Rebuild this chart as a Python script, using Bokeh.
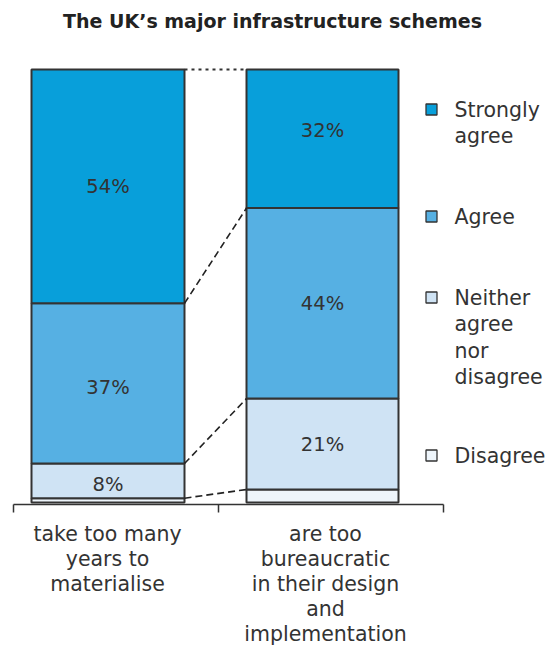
from bokeh.plotting import figure
from bokeh.models import Range1d, ColumnDataSource
from bokeh.core.properties import value
from bokeh.embed import file_html
from bokeh.resources import INLINE

# ---- data ----
categories = ["take too many\nyears to\nmaterialise",
              "are too\nbureaucratic\nin their design\nand\nimplementation"]
series_names = ["Strongly\nagree", "Agree", "Neither\nagree\nnor\ndisagree", "Disagree"]
strongly_agree = [54, 32]
agree = [37, 44]
neither = [8, 21]
disagree = [1, 3]
title = "The UK\u2019s major infrastructure schemes"

colors = ["#089FDA", "#56B0E3", "#CFE3F4", "#EEF5FB"]
edge = "#333333"
FONT = "DejaVu Sans"
TXT = "#333333"
FS = "20.5px"

# ---- layout (pixel-like) ----
W, H = 545, 646
Y0, SCALE = 502.0, 4.33   # pixel of 0%, pixels per percent


def v(py):
    return (Y0 - py) / SCALE


p = figure(width=W, height=H, output_backend="svg", toolbar_location=None,
           x_range=Range1d(0, W), y_range=Range1d(v(H), v(0)), min_border=0)
p.axis.visible = False
p.grid.visible = False
p.outline_line_color = None
p.background_fill_color = "white"

bar_x = [107.5, 322.0]
bar_w = [153, 152]
series = [strongly_agree, agree, neither, disagree]
# vertical nudge (percent units) of the in-bar labels, per series / bar
label_nudge = {0: [0, 1.8], 1: [-0.9, 0], 2: [-0.9, 0]}
# stack from the bottom: disagree, neither, agree, strongly
stack_order = [3, 2, 1, 0]
bottoms = [0.0, 0.0]
bounds = {}
for si in stack_order:
    vals = series[si]
    tops = [b + val for b, val in zip(bottoms, vals)]
    src = ColumnDataSource(dict(x=bar_x, w=bar_w, bottom=bottoms, top=tops))
    p.vbar(x="x", width="w", bottom="bottom", top="top", source=src,
           fill_color=colors[si], line_color=edge, line_width=2)
    bounds[si] = (list(bottoms), tops)
    if si != 3:
        labs = [f"{val}%" for val in vals]
        mids = [(b + t) / 2 + n for b, t, n in zip(bottoms, tops, label_nudge[si])]
        p.text(x=bar_x, y=mids, text=labs, text_font=value(FONT),
               text_font_size="19.5px", text_color=TXT, text_align="center",
               text_baseline="middle")
    bottoms = tops

# connectors between bars
xl = bar_x[0] + bar_w[0] / 2
xr = bar_x[1] - bar_w[1] / 2
top_tot = [sum(s[i] for s in series) for i in range(2)]
p.line([xl, xr], [top_tot[0], top_tot[1]], line_color=edge, line_width=2,
       line_dash="3 4")
for si in [0, 1, 2]:
    b = bounds[si][0]
    p.line([xl, xr], [b[0], b[1]], line_color="#222222", line_width=1.6,
           line_dash="7 4")

# axis line + ticks
ax_y = v(504)
tick_x = [13, 218, 443]
p.line([tick_x[0], tick_x[-1]], [ax_y, ax_y], line_color=edge, line_width=1.5)
p.segment(x0=tick_x, y0=[ax_y] * 3, x1=tick_x, y1=[v(512)] * 3,
          line_color=edge, line_width=1.5)

# category labels
lab_x = [107, 325]
for cx, cat in zip(lab_x, categories):
    lines = cat.split("\n")
    ys = [v(533 + 25 * i) for i in range(len(lines))]
    p.text(x=[cx] * len(lines), y=ys, text=lines, text_font=value(FONT),
           text_font_size=FS, text_color=TXT, text_align="center",
           text_baseline="middle")

# legend
leg_y = [109, 216, 297, 455]
p.scatter(x=[431] * 4, y=[v(y) for y in leg_y], marker="square", size=11,
          fill_color=colors, line_color=edge, line_width=1.3)
for ly, name in zip(leg_y, series_names):
    lines = name.split("\n")
    ys = [v(ly + 26.5 * i) for i in range(len(lines))]
    p.text(x=[454] * len(lines), y=ys, text=lines, text_font=value(FONT),
           text_font_size=FS, text_color=TXT, text_align="left",
           text_baseline="middle")

# title
p.text(x=[272], y=[v(20)], text=[title], text_font=value(FONT),
       text_font_size="19px", text_font_style="bold", text_color="#222222",
       text_align="center", text_baseline="middle")

open("out.html", "w").write(file_html(p, INLINE))
